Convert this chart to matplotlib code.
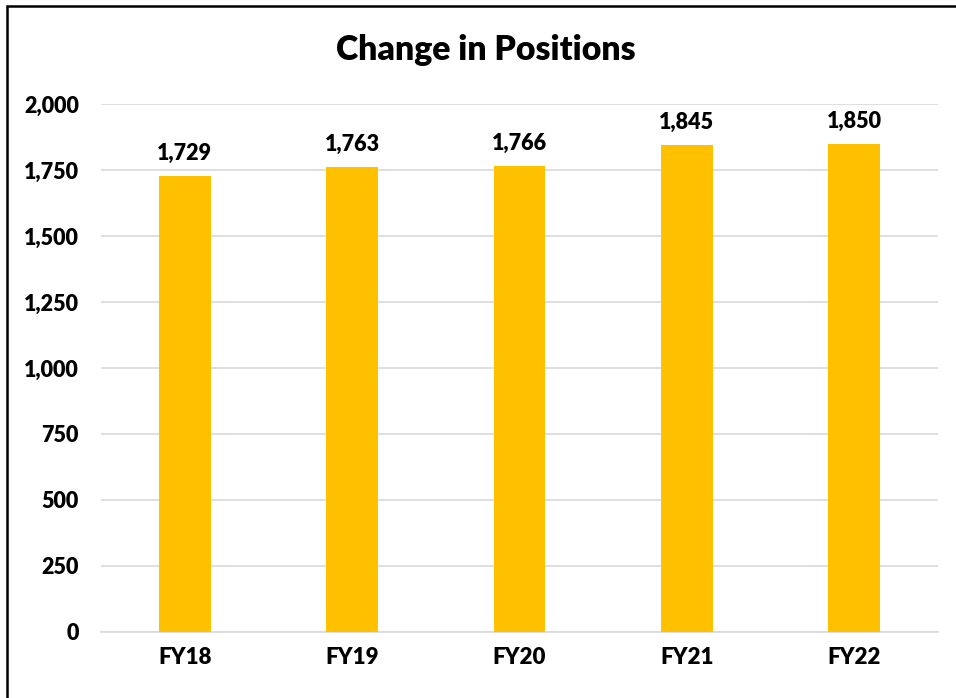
import matplotlib
matplotlib.use("Agg")
import matplotlib.pyplot as plt
from matplotlib.patches import Rectangle
from matplotlib.ticker import FuncFormatter

categories = ["FY18", "FY19", "FY20", "FY21", "FY22"]
values = [1729, 1763, 1766, 1845, 1850]
yticks = [0, 250, 500, 750, 1000, 1250, 1500, 1750, 2000]

plt.rcParams['font.family'] = ['Lato', 'DejaVu Sans']
WEIGHT = 800

W, H = 956, 698
fig = plt.figure(figsize=(W/100, H/100), dpi=100)
ax = fig.add_axes([101/W, 1-632/H, (938-101)/W, (632-104)/H])

x = list(range(len(categories)))
ax.bar(x, values, width=0.31, color="#FFC000", zorder=3)
for xi, v in zip(x, values):
    ax.annotate(f"{v:,}", (xi, v), xytext=(0, 8.5), textcoords="offset points",
                ha="center", va="bottom", fontsize=15.5, fontweight=WEIGHT, color="black")

ax.set_xlim(-0.5, len(categories)-0.5)
ax.set_ylim(0, 2000)
ax.set_yticks(yticks)
ax.yaxis.set_major_formatter(FuncFormatter(lambda v, p: f"{int(v):,}"))
ax.set_xticks(x)
ax.set_xticklabels(categories)
ax.tick_params(axis="y", length=0, labelsize=15.5, pad=16)
ax.tick_params(axis="x", length=0, labelsize=16, pad=10.5)
for lbl in ax.get_xticklabels() + ax.get_yticklabels():
    lbl.set_fontweight(WEIGHT)
ax.grid(axis="y", color="#D9D9D9", linewidth=1.2, zorder=0)
for s in ["top", "right", "left"]:
    ax.spines[s].set_visible(False)
ax.spines["bottom"].set_color("#D9D9D9")
ax.spines["bottom"].set_linewidth(1.2)

fig.text(486/W, 1-50/H, "Change in Positions", ha="center", va="center",
         fontsize=24.3, fontweight=WEIGHT)

fig.patches.append(Rectangle((6.5/W, -0.1), 1.2, 1 - 5.5/H + 0.1, transform=fig.transFigure,
                             fill=False, edgecolor="black", linewidth=1.8))

fig.savefig("out.png", dpi=100)
